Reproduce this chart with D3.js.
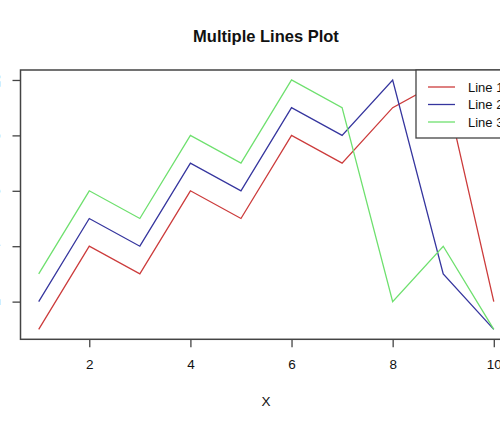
<!DOCTYPE html>
<html>
<head>
<meta charset="utf-8">
<script src="https://cdn.jsdelivr.net/npm/d3@7"></script>
<style>
  html, body { margin: 0; padding: 0; background: #fff; overflow: hidden; }
  svg { display: block; font-family: "Liberation Sans", Arial, sans-serif; }
</style>
</head>
<body>
<svg id="chart" width="500" height="427"></svg>
<script>
const xValues = [1, 2, 3, 4, 5, 6, 7, 8, 9, 10];
const line1 = [1, 4, 3, 6, 5, 8, 7, 9, 10, 2];
const line2 = [2, 5, 4, 7, 6, 9, 8, 10, 3, 1];
const line3 = [3, 6, 5, 8, 7, 10, 9, 2, 4, 1];
const seriesNames = ["Line 1", "Line 2", "Line 3"];
const seriesColors = ["#cc3b3b", "#35359e", "#6ee06e"];
const xTicks = [2, 4, 6, 8, 10];
const yTicks = [2, 4, 6, 8, 10];

const series = [line1, line2, line3];

const svg = d3.select("#chart");
const plotLeft = 20.5, plotRight = 512, plotTop = 70, plotBottom = 339.3;

const allY = series.flat();
const yMin = d3.min(allY), yMax = d3.max(allY);
const xMin = d3.min(xValues), xMax = d3.max(xValues);
const xPad = (xMax - xMin) * 0.04, yPad = (yMax - yMin) * 0.04;

const x = d3.scaleLinear().domain([xMin - xPad, xMax + xPad]).range([plotLeft, plotRight]);
const y = d3.scaleLinear().domain([yMin - yPad, yMax + yPad]).range([plotBottom, plotTop]);

// Title
svg.append("text")
  .attr("x", 266).attr("y", 41.5)
  .attr("text-anchor", "middle")
  .attr("font-weight", "bold")
  .attr("font-size", 16.5)
  .attr("fill", "#111")
  .text("Multiple Lines Plot");

// Lines
const lineGen = d3.line().x((d, i) => x(xValues[i])).y(d => y(d));
series.forEach((s, k) => {
  svg.append("path")
    .datum(s)
    .attr("fill", "none")
    .attr("stroke", seriesColors[k])
    .attr("stroke-width", 1.3)
    .attr("d", lineGen);
});

// X axis
const xAxis = svg.append("g")
  .attr("transform", `translate(0,${plotBottom})`)
  .call(d3.axisBottom(x).tickValues(xTicks).tickSize(8).tickPadding(12).tickFormat(d3.format("d")));
xAxis.select(".domain").remove();
xAxis.selectAll("line").attr("stroke", "#444").attr("stroke-width", 1.3);
xAxis.selectAll("text").attr("font-size", 13.5).attr("fill", "#111")
  .attr("font-family", "'Liberation Sans', Arial, sans-serif");

// Y axis
const yAxis = svg.append("g")
  .attr("transform", `translate(${plotLeft},0)`)
  .call(d3.axisLeft(y).tickValues(yTicks).tickSize(8).tickFormat(""));
yAxis.select(".domain").remove();
yAxis.selectAll("line").attr("stroke", "#444").attr("stroke-width", 1.3);
yAxis.selectAll(".tick").append("text")
  .attr("transform", "translate(-20.5,0) rotate(-90)")
  .attr("text-anchor", "middle")
  .attr("font-size", 13)
  .attr("fill", "#777")
  .attr("font-family", "'Liberation Sans', Arial, sans-serif")
  .text(d => d);

// Plot box
svg.append("rect")
  .attr("x", plotLeft).attr("y", plotTop)
  .attr("width", plotRight - plotLeft).attr("height", plotBottom - plotTop)
  .attr("fill", "none").attr("stroke", "#444").attr("stroke-width", 1.5);

// X label
svg.append("text")
  .attr("x", 266).attr("y", 406)
  .attr("text-anchor", "middle")
  .attr("font-size", 13.5)
  .attr("fill", "#111")
  .text("X");

// Legend
const legend = svg.append("g");
legend.append("rect")
  .attr("x", 416).attr("y", plotTop)
  .attr("width", 120).attr("height", 68)
  .attr("fill", "#fff").attr("stroke", "#444").attr("stroke-width", 1.3);
seriesNames.forEach((name, i) => {
  const ly = 87 + i * 17.5;
  legend.append("line")
    .attr("x1", 428).attr("x2", 455).attr("y1", ly).attr("y2", ly)
    .attr("stroke", seriesColors[i]).attr("stroke-width", 1.3);
  legend.append("text")
    .attr("x", 468).attr("y", ly + 4.5)
    .attr("font-size", 13)
    .attr("fill", "#111")
    .text(name);
});
</script>
</body>
</html>
